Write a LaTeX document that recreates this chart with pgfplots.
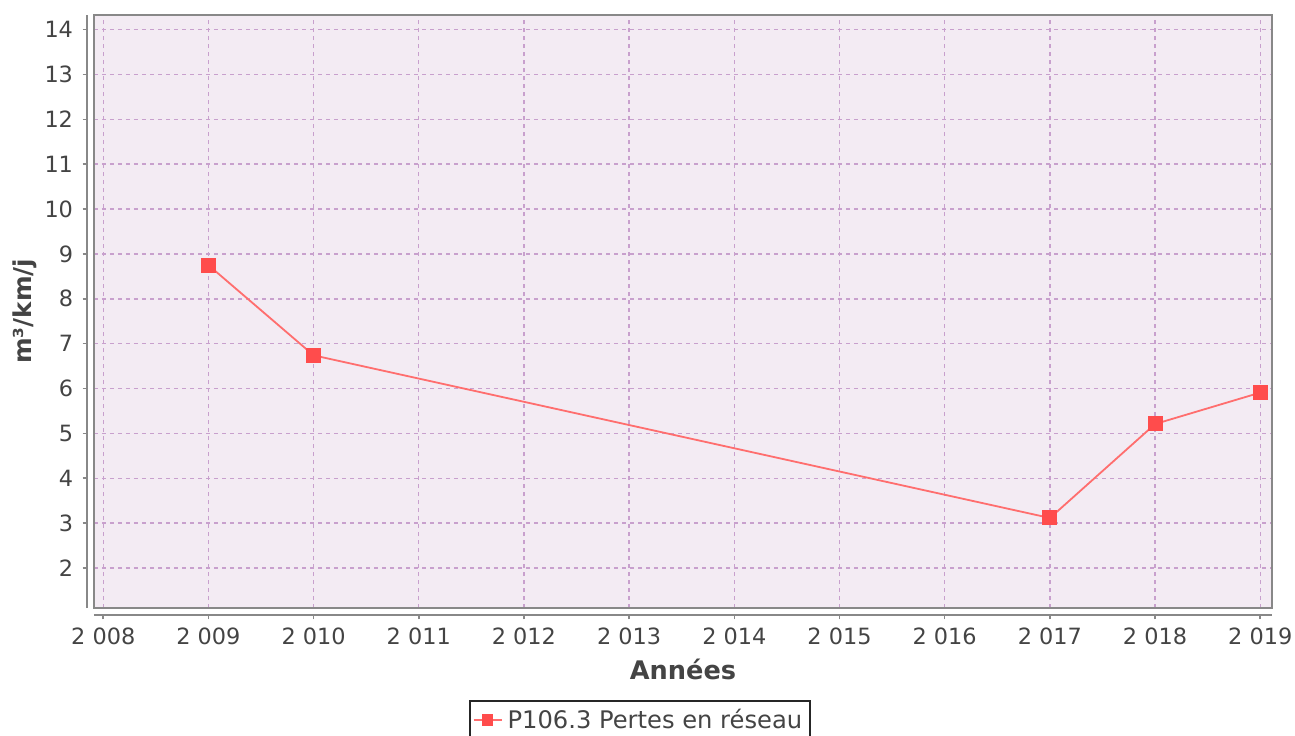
\documentclass[border=0pt]{standalone}
\usepackage{pgfplots}
\pgfplotsset{compat=1.18}
\usepackage{fontspec}
\setmainfont{DejaVu Sans}
\definecolor{bgc}{RGB}{243,235,243}
\definecolor{gridc}{RGB}{200,160,205}
\definecolor{linec}{RGB}{255,110,110}
\definecolor{markc}{RGB}{255,76,76}
\definecolor{txt}{RGB}{68,68,68}
\definecolor{axc}{RGB}{136,136,136}
\begin{document}
\begin{tikzpicture}
\useasboundingbox (-47pt,-63.5pt) rectangle (600.5pt,304pt);
\begin{axis}[
  at={(0,0)}, anchor=south west,
  scale only axis, width=589pt, height=296.7pt,
  clip=false,
  xmin=2007.912, xmax=2019.111,
  ymin=1.109, ymax=14.334,
  xtick={2008,...,2019},
  xticklabels={2 008,2 009,2 010,2 011,2 012,2 013,2 014,2 015,2 016,2 017,2 018,2 019},
  ytick={2,...,14},
  /pgf/number format/assume math mode=true,
  tick pos=left, tick align=outside, major tick length=2.2pt,
  xtick style={draw=axc, line width=0.8pt, yshift=-3.5pt},
  ytick style={draw=axc, line width=0.8pt, xshift=-3.5pt},
  ticklabel style={font=\fontsize{11.2}{13}\selectfont, text=txt, inner sep=0pt},
  xticklabel style={anchor=north, yshift=-7.45pt},
  yticklabel style={anchor=east, xshift=-8.1pt},
  axis background/.style={fill=bgc},
  axis line style={draw=axc, line width=1pt},
  grid=major,
  major grid style={draw=gridc, line width=0.7pt, dash pattern=on 2pt off 2pt},
  xlabel={Années},
  xlabel style={at={(axis description cs:0.5,-0.1197)}, anchor=base, font=\bfseries\fontsize{12.8}{15}\selectfont, text=txt},
  ylabel={m³/km/j},
  ylabel style={at={(axis description cs:-0.0586,0.5)}, anchor=center, font=\bfseries\fontsize{12.3}{15}\selectfont, text=txt},
  legend style={at={(axis description cs:0.3183,-0.155)}, anchor=north west,
    draw=black!85, line width=0.8pt, fill=white, inner sep=1.5pt,
    font=\fontsize{12.1}{14}\selectfont, text=txt,
    nodes={inner sep=2.5pt}},
  legend image code/.code={
    \draw[#1, mark repeat=2, mark phase=2, mark size=2.6pt] plot coordinates {(0pt,0pt) (7pt,0pt) (14pt,0pt)};
  },
]
\draw[axc, line width=1pt] ([xshift=-3.5pt]rel axis cs:0,0) -- ([xshift=-3.5pt]rel axis cs:0,1);
\draw[axc, line width=1pt] ([yshift=-3.5pt]rel axis cs:0,0) -- ([yshift=-3.5pt]rel axis cs:1,0);
\addplot[color=linec, line width=0.9pt, mark=square*, mark size=3.5pt,
  mark options={fill=markc, draw=markc, line width=0pt}]
  coordinates {(2009,8.75) (2010,6.74) (2017,3.115) (2018,5.21) (2019,5.91)};
\addlegendentry{P106.3 Pertes en réseau\rule[-5pt]{0pt}{5pt}}
\end{axis}
\end{tikzpicture}
\end{document}
